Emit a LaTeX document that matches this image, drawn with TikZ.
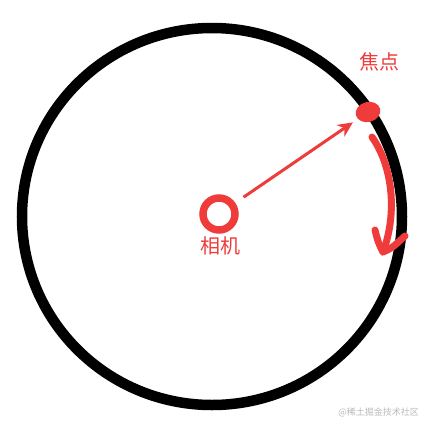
\documentclass[tikz,border=0pt]{standalone}
\usepackage{fontspec}
\setmainfont{Noto Sans CJK SC}
\usetikzlibrary{arrows.meta,shapes.geometric}
\definecolor{myred}{HTML}{EF3B3A}
\tikzset{
  redlabel/.style={text=myred, inner sep=0pt, font=\fontsize{20bp}{20bp}\selectfont},
  handstroke/.style={draw=myred, line width=7bp, line cap=round, line join=round},
}
\begin{document}
\begin{tikzpicture}[x=1bp,y=-1bp]
\useasboundingbox (0,0) rectangle (422,425);
% big circle
\draw[line width=10.5bp] (212,216.5) ellipse [x radius=190bp, y radius=188.5bp];
% camera
\node[circle, draw=myred, line width=7.5bp, minimum size=32bp, inner sep=0pt] (cam) at (219,214) {};
\node[redlabel] (camlbl) at (220,246) {相机};
% focus point
\node[ellipse, fill=myred, minimum width=25bp, minimum height=20bp, inner sep=0pt, rotate=15] (focus) at (368,112) {};
\node[redlabel] (focuslbl) at (379,62) {焦点};
% arrow camera -> focus
\draw[myred, line width=3bp, shorten <=10bp, shorten >=6bp, -{Stealth[length=15bp,width=14bp]}] (cam) -- (focus);
% curved hand-drawn arrow
\coordinate (c0) at (372,137);
\coordinate (c1) at (383,252);
\coordinate (hl) at (375,230);
\coordinate (hr) at (405,236);
\draw[handstroke] (c0) .. controls (392,165) and (398,212) .. (c1);
\draw[handstroke] (hl) .. controls (378,242) .. (c1) .. controls (392,248) .. (hr);
% watermark
\node[text=gray!55, anchor=east, inner sep=0pt, font=\fontsize{9bp}{9bp}\selectfont] (wm) at (419,412) {@稀土掘金技术社区};
\end{tikzpicture}
\end{document}
